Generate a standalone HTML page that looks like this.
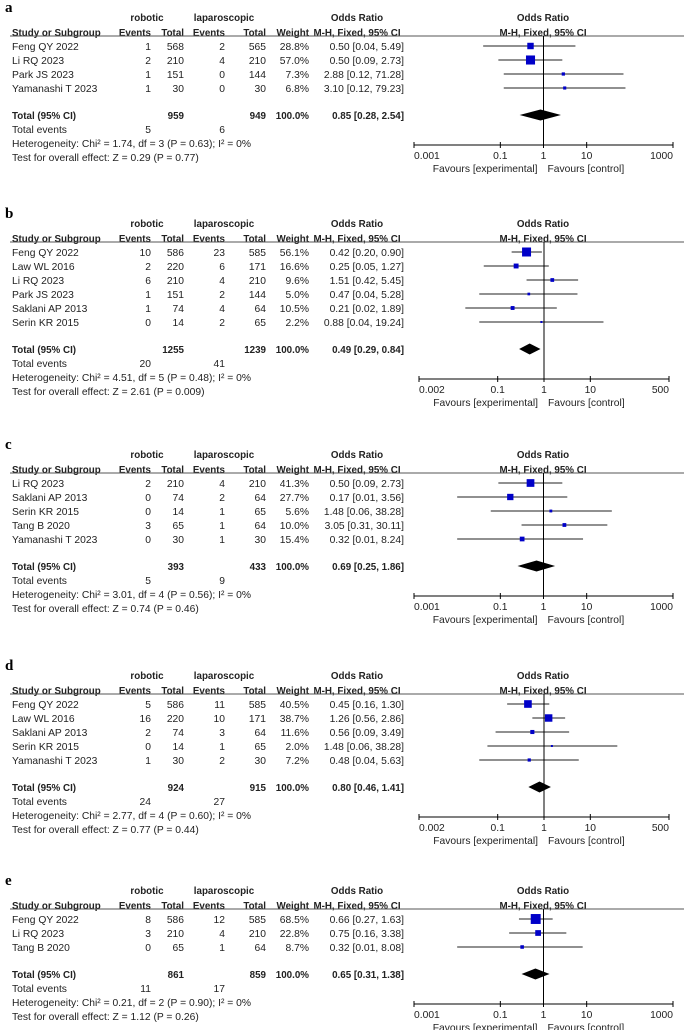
<!DOCTYPE html>
<html><head><meta charset="utf-8"><style>
html,body{margin:0;padding:0;background:#fff;}
svg{display:block;font-family:"Liberation Sans",sans-serif;}
</style></head><body>
<svg id="fp" width="684" height="1030" viewBox="0 0 684 1030" xmlns="http://www.w3.org/2000/svg"></svg>
<script>
const panelLabels=['a','b','c','d','e'];
const panelTops=[17,223,454,675,890];
const studiesA=['Feng QY 2022','Li RQ 2023','Park JS 2023','Yamanashi T 2023'];
const robEvA=['1','2','1','1'];const robTotA=['568','210','151','30'];
const lapEvA=['2','4','0','0'];const lapTotA=['565','210','144','30'];
const weightA=[28.8,57.0,7.3,6.8];const orA=[0.50,0.50,2.88,3.10];const loA=[0.04,0.09,0.12,0.12];const hiA=[5.49,2.73,71.28,79.23];
const studiesB=['Feng QY 2022','Law WL  2016','Li RQ 2023','Park JS 2023','Saklani AP 2013','Serin KR 2015'];
const robEvB=['10','2','6','1','1','0'];const robTotB=['586','220','210','151','74','14'];
const lapEvB=['23','6','4','2','4','2'];const lapTotB=['585','171','210','144','64','65'];
const weightB=[56.1,16.6,9.6,5.0,10.5,2.2];const orB=[0.42,0.25,1.51,0.47,0.21,0.88];const loB=[0.20,0.05,0.42,0.04,0.02,0.04];const hiB=[0.90,1.27,5.45,5.28,1.89,19.24];
const studiesC=['Li RQ 2023','Saklani AP 2013','Serin KR 2015','Tang B 2020','Yamanashi T 2023'];
const robEvC=['2','0','0','3','0'];const robTotC=['210','74','14','65','30'];
const lapEvC=['4','2','1','1','1'];const lapTotC=['210','64','65','64','30'];
const weightC=[41.3,27.7,5.6,10.0,15.4];const orC=[0.50,0.17,1.48,3.05,0.32];const loC=[0.09,0.01,0.06,0.31,0.01];const hiC=[2.73,3.56,38.28,30.11,8.24];
const studiesD=['Feng QY 2022','Law WL  2016','Saklani AP 2013','Serin KR 2015','Yamanashi T 2023'];
const robEvD=['5','16','2','0','1'];const robTotD=['586','220','74','14','30'];
const lapEvD=['11','10','3','1','2'];const lapTotD=['585','171','64','65','30'];
const weightD=[40.5,38.7,11.6,2.0,7.2];const orD=[0.45,1.26,0.56,1.48,0.48];const loD=[0.16,0.56,0.09,0.06,0.04];const hiD=[1.30,2.86,3.49,38.28,5.63];
const studiesE=['Feng QY 2022','Li RQ 2023','Tang B 2020'];
const robEvE=['8','3','0'];const robTotE=['586','210','65'];
const lapEvE=['12','4','1'];const lapTotE=['585','210','64'];
const weightE=[68.5,22.8,8.7];const orE=[0.66,0.75,0.32];const loE=[0.27,0.16,0.01];const hiE=[1.63,3.38,8.08];
const totRob=['959','1255','393','924','861'];const totLap=['949','1239','433','915','859'];
const totOr=[0.85,0.49,0.69,0.80,0.65];const totLo=[0.28,0.29,0.25,0.46,0.31];const totHi=[2.54,0.84,1.86,1.41,1.38];
const totEvRob=['5','20','5','24','11'];const totEvLap=['6','41','9','27','17'];
const hetText=['Heterogeneity: Chi² = 1.74, df = 3 (P = 0.63); I² = 0%','Heterogeneity: Chi² = 4.51, df = 5 (P = 0.48); I² = 0%','Heterogeneity: Chi² = 3.01, df = 4 (P = 0.56); I² = 0%','Heterogeneity: Chi² = 2.77, df = 4 (P = 0.60); I² = 0%','Heterogeneity: Chi² = 0.21, df = 2 (P = 0.90); I² = 0%'];
const zText=['Test for overall effect: Z = 0.29 (P = 0.77)','Test for overall effect: Z = 2.61 (P = 0.009)','Test for overall effect: Z = 0.74 (P = 0.46)','Test for overall effect: Z = 0.77 (P = 0.44)','Test for overall effect: Z = 1.12 (P = 0.26)'];
const ticksWide=[0.001,0.1,1,10,1000];const tickLabelsWide=['0.001','0.1','1','10','1000'];
const ticksNarrow=[0.002,0.1,1,10,500];const tickLabelsNarrow=['0.002','0.1','1','10','500'];

const panels=[
 [studiesA,robEvA,robTotA,lapEvA,lapTotA,weightA,orA,loA,hiA,'wide'],
 [studiesB,robEvB,robTotB,lapEvB,lapTotB,weightB,orB,loB,hiB,'narrow'],
 [studiesC,robEvC,robTotC,lapEvC,lapTotC,weightC,orC,loC,hiC,'wide'],
 [studiesD,robEvD,robTotD,lapEvD,lapTotD,weightD,orD,loD,hiD,'narrow'],
 [studiesE,robEvE,robTotE,lapEvE,lapTotE,weightE,orE,loE,hiE,'wide']];
const svg=document.getElementById('fp');
const NS='http://www.w3.org/2000/svg';
function mk(tag,attrs,parent){const e=document.createElementNS(NS,tag);for(const k in attrs)e.setAttribute(k,attrs[k]);(parent||svg).appendChild(e);return e;}
function txt(x,y,s,anchor,bold,name,parent,size){const t=mk('text',{x:x,y:y,'font-size':size||(bold?9.8:10.3),fill:'#222','text-anchor':anchor||'start','font-weight':bold?'bold':'normal'},parent);t.textContent=s;


return t;}
function f2(v){return v.toFixed(2);}
function ciText(o,l,h){return f2(o)+' ['+f2(l)+', '+f2(h)+']';}

panels.forEach((p,pi)=>{
 const [st,re,rt,le,lt,w,or,lo,hi,kind]=p;
 const h=panelTops[pi];
 const g=mk('g',{});
 
 
 const lab=mk('text',{x:5,y:h-5,'font-size':15,'font-weight':'bold','font-family':'Liberation Serif, serif',fill:'#000'},g);lab.textContent=panelLabels[pi];
 
 
 const ax0=kind==='wide'?414:419, ax1=kind==='wide'?673:669;
 const tv=kind==='wide'?ticksWide:ticksNarrow, tl=kind==='wide'?tickLabelsWide:tickLabelsNarrow;
 const lmin=Math.log10(tv[0]),lmax=Math.log10(tv[tv.length-1]);
 const X=v=>ax0+(Math.log10(v)-lmin)/(lmax-lmin)*(ax1-ax0);
 txt(147,h+4,'robotic','middle',true,'robotic-header',g);
 txt(224,h+4,'laparoscopic','middle',true,'laparoscopic-header',g);
 txt(357,h+4,'Odds Ratio','middle',true,'or-column-header',g);
 txt(543,h+4,'Odds Ratio','middle',true,'plot-header',g);
 const h2=h+15;
 txt(12,h2+4,'Study or Subgroup','start',true,'study-header',g);
 txt(151,h2+4,'Events','end',true,'robotic-events-header',g);
 txt(184,h2+4,'Total','end',true,'robotic-total-header',g);
 txt(225,h2+4,'Events','end',true,'lap-events-header',g);
 txt(266,h2+4,'Total','end',true,'lap-total-header',g);
 txt(309,h2+4,'Weight','end',true,'weight-header',g);
 txt(357,h2+4,'M-H, Fixed, 95% CI','middle',true,'or-method-header',g);
 txt(543,h2+4,'M-H, Fixed, 95% CI','middle',true,'plot-method-header',g);
 const ly=h+19;
 const hl=mk('line',{x1:10,y1:ly,x2:684,y2:ly,stroke:'#555','stroke-width':1},g);
 
 
 const r0=h+29;
 st.forEach((s,i)=>{
  const y=r0+i*14;
  txt(12,y+4,s,'start',false,'study-name',g);
  txt(151,y+4,re[i],'end',false,'robotic-events',g);
  txt(184,y+4,rt[i],'end',false,'robotic-total',g);
  txt(225,y+4,le[i],'end',false,'lap-events',g);
  txt(266,y+4,lt[i],'end',false,'lap-total',g);
  txt(309,y+4,w[i].toFixed(1)+'%','end',false,'weight',g);
  txt(404,y+4,ciText(or[i],lo[i],hi[i]),'end',false,'odds-ratio-ci',g);
  const ci=mk('line',{x1:X(lo[i]),y1:y,x2:X(hi[i]),y2:y,stroke:'#222','stroke-width':1},g);
  
  
  const sz=Math.max(2,Math.sqrt(w[i])*1.2);
  const sq=mk('rect',{x:X(or[i])-sz/2,y:y-sz/2,width:sz,height:sz,fill:'#0000c8'},g);
  
  
 });
 const ty=r0+(st.length-1)*14+27;
 txt(12,ty+4,'Total (95% CI)','start',true,'total-label',g);
 txt(184,ty+4,totRob[pi],'end',true,'total-robotic',g);
 txt(266,ty+4,totLap[pi],'end',true,'total-lap',g);
 txt(309,ty+4,'100.0%','end',true,'total-weight',g);
 txt(404,ty+4,ciText(totOr[pi],totLo[pi],totHi[pi]),'end',true,'total-or',g);
 const dm=mk('polygon',{points:[X(totLo[pi])+','+ty,X(totOr[pi])+','+(ty-5.5),X(totHi[pi])+','+ty,X(totOr[pi])+','+(ty+5.5)].join(' '),fill:'#000'},g);
 
 
 txt(12,ty+18,'Total events','start',false,'total-events-label',g);
 txt(151,ty+18,totEvRob[pi],'end',false,'total-events-robotic',g);
 txt(225,ty+18,totEvLap[pi],'end',false,'total-events-lap',g);
 txt(12,ty+32,hetText[pi],'start',false,'heterogeneity',g);
 txt(12,ty+46,zText[pi],'start',false,'overall-effect',g);
 const ay=ty+46-16;
 const vl=mk('line',{x1:X(1),y1:ly,x2:X(1),y2:ay,stroke:'#000','stroke-width':1},g);
 
 
 const axl=mk('line',{x1:ax0,y1:ay,x2:ax1,y2:ay,stroke:'#000','stroke-width':1},g);
 
 
 tv.forEach((v,k)=>{
  const tk=mk('line',{x1:X(v),y1:ay-3,x2:X(v),y2:ay+3,stroke:'#000','stroke-width':1},g);
  
  
  const anc=k===0?'start':(k===tv.length-1?'end':'middle');
  txt(X(v),ay+14,tl[k],anc,false,'x-tick-label',g);
 });
 txt(X(1)-6,ay+27,'Favours [experimental]','end',false,'favours-experimental',g);
 txt(X(1)+4,ay+27,'Favours [control]','start',false,'favours-control',g);
});
</script>
</body></html>
